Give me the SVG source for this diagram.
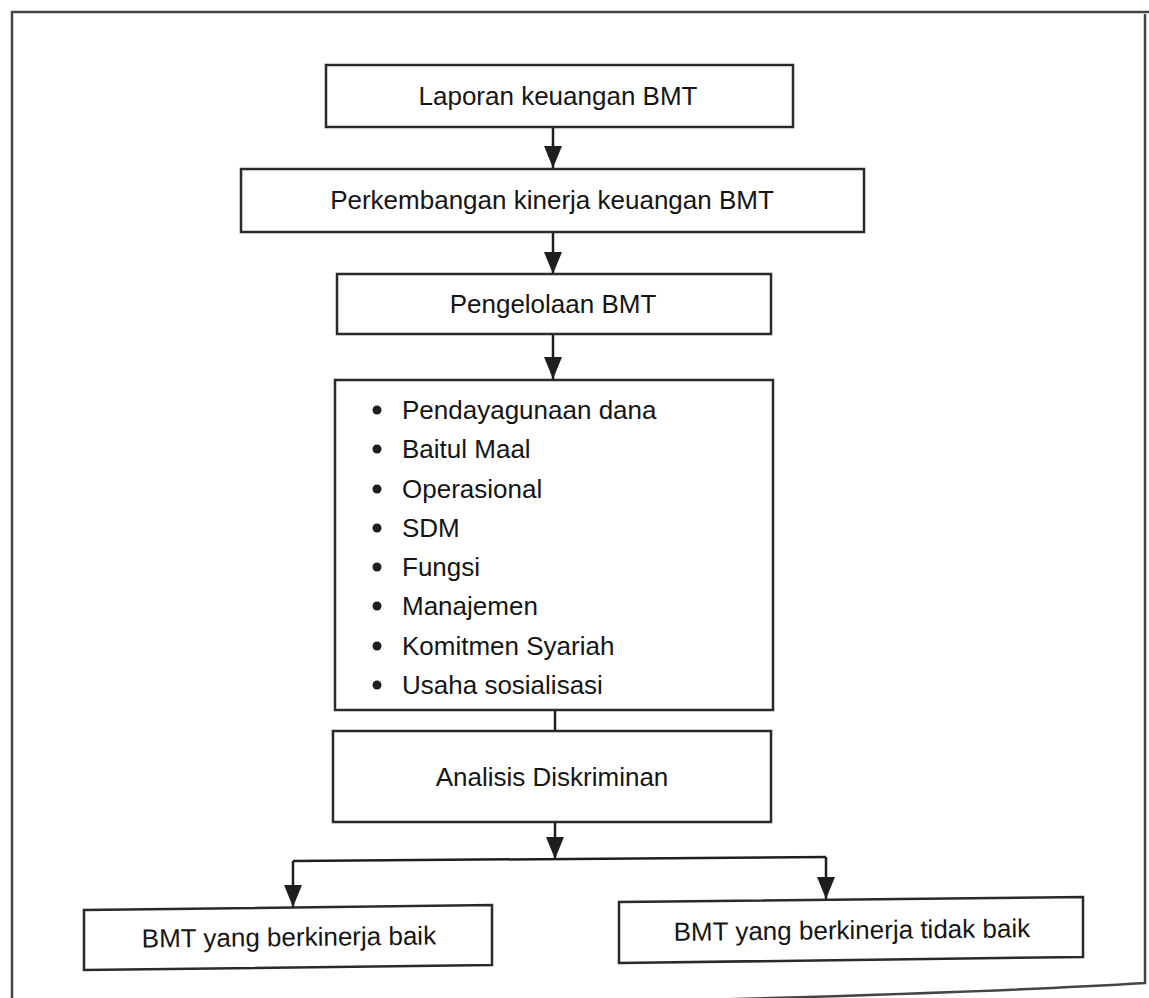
<svg xmlns="http://www.w3.org/2000/svg" width="1149" height="998" viewBox="0 0 1149 998">
<defs>
<style>
.box{fill:#fff;stroke:#2a2a2a;stroke-width:2.5}
.lbl{font-family:"Liberation Sans",Arial,sans-serif;font-size:26px;fill:#151515}
.mid{text-anchor:middle}
.conn{stroke:#1e1e1e;stroke-width:2.5;fill:none}
.frame{stroke:#444;stroke-width:2.5;fill:none}
</style>
<marker id="arr" markerUnits="userSpaceOnUse" markerWidth="22" markerHeight="18" viewBox="0 0 22 18" refX="22" refY="9" orient="auto">
<path d="M0,0 L22,9 L0,18 Z" fill="#1e1e1e"/>
</marker>
</defs>
<rect width="1149" height="998" fill="#fff"/>
<path class="frame" d="M12 1000 L12 12 L1149 12 M1145 14 L1145 983 Q1000 992 700 1000"/>
<g id="connectors">
<line class="conn" x1="553" y1="127" x2="553" y2="168" marker-end="url(#arr)"/>
<line class="conn" x1="553" y1="232" x2="553" y2="274" marker-end="url(#arr)"/>
<line class="conn" x1="553" y1="334" x2="553" y2="379" marker-end="url(#arr)"/>
<line class="conn" x1="555" y1="706" x2="555" y2="731"/>
<line class="conn" x1="555" y1="822" x2="555" y2="859" marker-end="url(#arr)"/>
<line class="conn" x1="293" y1="861" x2="826" y2="857"/>
<line class="conn" x1="293" y1="861" x2="293" y2="907" marker-end="url(#arr)"/>
<line class="conn" x1="826" y1="857" x2="826" y2="899" marker-end="url(#arr)"/>
</g>
<g id="n1">
<rect class="box" x="326" y="65" width="467" height="62"/>
<text class="lbl mid" x="558" y="105">Laporan keuangan BMT</text>
</g>
<g id="n2">
<rect class="box" x="241" y="169" width="623" height="63"/>
<text class="lbl mid" x="552" y="209">Perkembangan kinerja keuangan BMT</text>
</g>
<g id="n3">
<rect class="box" x="337" y="274" width="434" height="60"/>
<text class="lbl mid" x="553" y="313">Pengelolaan BMT</text>
</g>
<g id="n4">
<rect class="box" x="335" y="380" width="438" height="330"/>
<g fill="#1e1e1e">
<circle cx="377" cy="410" r="4.5"/>
<circle cx="377" cy="449" r="4.5"/>
<circle cx="377" cy="489" r="4.5"/>
<circle cx="377" cy="528" r="4.5"/>
<circle cx="377" cy="567" r="4.5"/>
<circle cx="377" cy="606" r="4.5"/>
<circle cx="377" cy="646" r="4.5"/>
<circle cx="377" cy="685" r="4.5"/>
</g>
<text class="lbl" x="402" y="419">Pendayagunaan dana</text>
<text class="lbl" x="402" y="458">Baitul Maal</text>
<text class="lbl" x="402" y="498">Operasional</text>
<text class="lbl" x="402" y="537">SDM</text>
<text class="lbl" x="402" y="576">Fungsi</text>
<text class="lbl" x="402" y="615">Manajemen</text>
<text class="lbl" x="402" y="655">Komitmen Syariah</text>
<text class="lbl" x="402" y="694">Usaha sosialisasi</text>
</g>
<g id="n5">
<rect class="box" x="333" y="731" width="438" height="91"/>
<text class="lbl mid" x="552" y="786">Analisis Diskriminan</text>
</g>
<g id="n6">
<polygon class="box" points="84,910 492,905 492,965 84,970"/>
<text class="lbl mid" x="289" y="946" transform="rotate(-0.6 289 946)">BMT yang berkinerja baik</text>
</g>
<g id="n7">
<polygon class="box" points="619,902 1083,897 1083,957 619,963"/>
<text class="lbl mid" x="852" y="939" transform="rotate(-0.6 852 939)">BMT yang berkinerja tidak baik</text>
</g>
</svg>
